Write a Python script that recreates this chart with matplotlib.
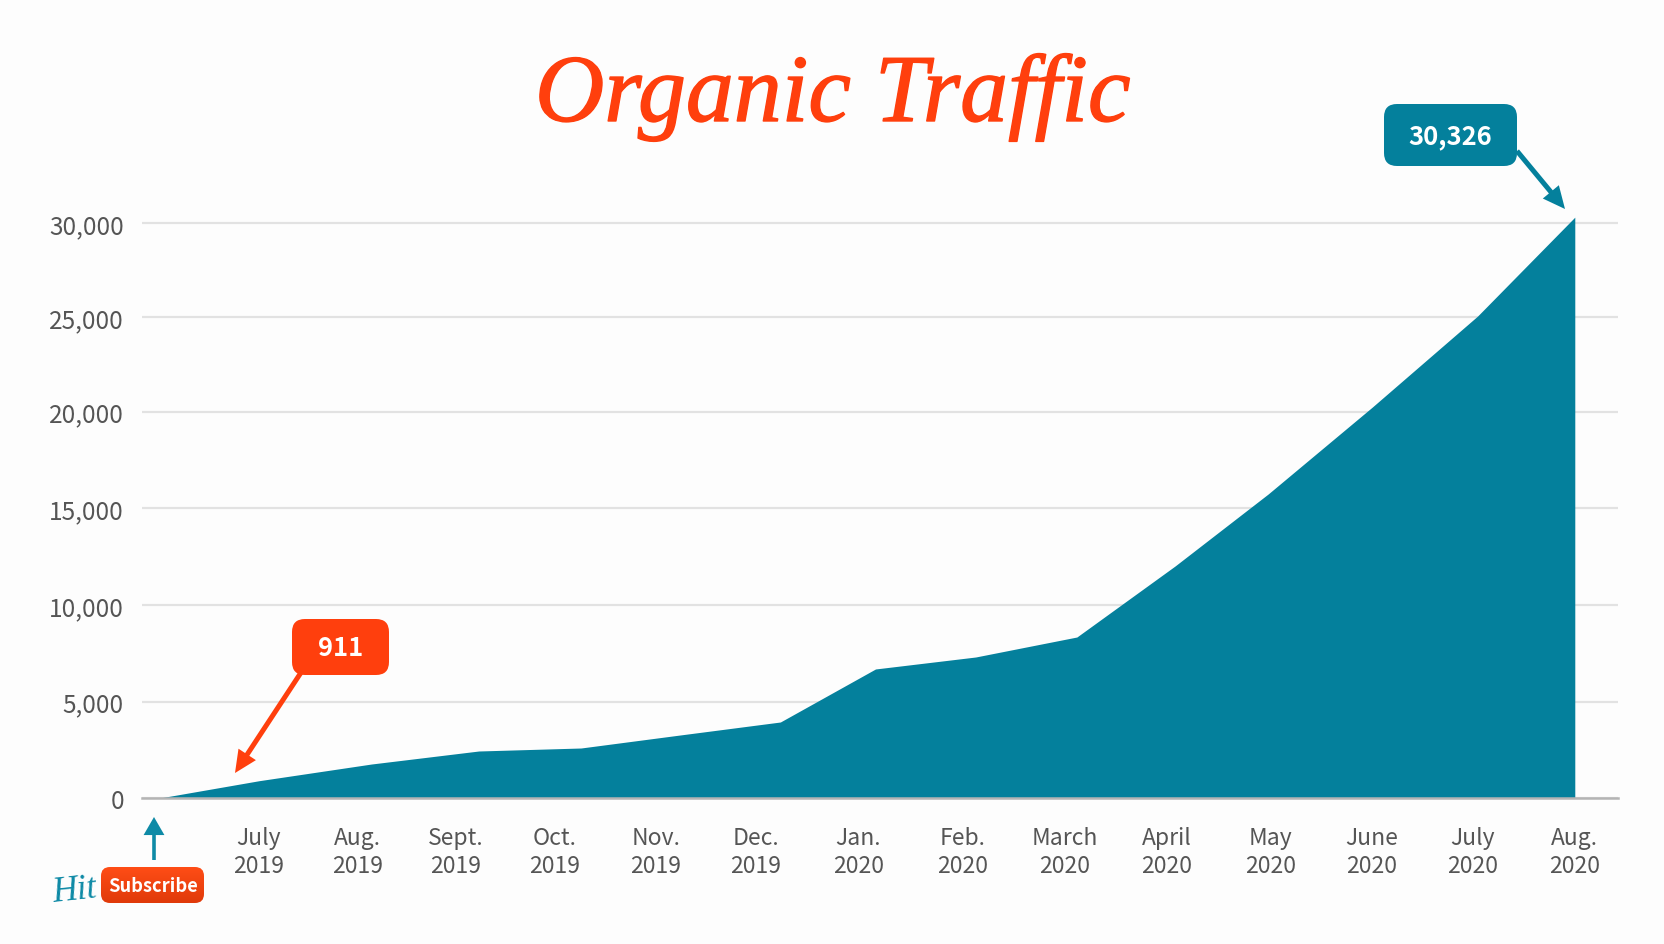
# plot.py
# Organic traffic area chart with callouts

import numpy as np
import matplotlib
matplotlib.use('Agg')
import matplotlib.pyplot as plt
import matplotlib.patheffects as pe
from matplotlib.patches import FancyBboxPatch

# Data
month_pos = [0, 1, 2.11, 3.17, 4.18, 5.16, 6.15, 7.09, 8.08, 9.08, 10.05, 10.97, 12.0, 13.04, 14]
traffic = [0, 911, 1774, 2447, 2602, 3275, 3947, 6690, 7310, 8344, 12017, 15742, 20248, 25053, 30326]

tick_pos = [0.99, 1.97, 2.94, 3.92, 4.92, 5.91, 6.92, 7.95, 8.96, 9.97, 10.99, 11.99, 12.99, 14.0]
tick_months = ['July', 'Aug.', 'Sept.', 'Oct.', 'Nov.', 'Dec.', 'Jan.', 'Feb.', 'March',
               'April', 'May', 'June', 'July', 'Aug.']
tick_years = ['2019'] * 6 + ['2020'] * 8
y_ticks = [0, 5000, 10000, 15000, 20000, 25000, 30000]

TEAL = '#04809c'
ORANGE = '#ff3f0d'
GREY_TEXT = '#555555'
UI_FONT = ['Noto Sans CJK JP', 'DejaVu Sans']
W, H = 1664, 945

plt.rcParams['font.family'] = UI_FONT

fig = plt.figure(figsize=(W / 100, H / 100), dpi=100, facecolor='#fdfdfd')

# Main axes, placed to match the reference (px: x 142-1618, y 187-799)
ax = fig.add_axes([142 / W, 1 - 799.3 / H, (1618 - 142) / W, (799.3 - 186.8) / H])
ax.set_facecolor('none')

# The picture's gridlines sit slightly closer together above 20,000
SCALE_IN = [0, 20000, 25000, 30000, 32000]
SCALE_OUT = [0, 20000, 24899, 29746, 31686]


def y_forward(v):
    return np.interp(v, SCALE_IN, SCALE_OUT)


def y_inverse(v):
    return np.interp(v, SCALE_OUT, SCALE_IN)


ax.set_yscale('function', functions=(y_forward, y_inverse))
ax.set_xlim(-0.158, 14.427)
ax.set_ylim(0, 32000)

ax.fill_between(month_pos, traffic, 0, color=TEAL, linewidth=0, zorder=2)

ax.set_yticks(y_ticks)
ax.set_yticklabels([f'{v:,}' for v in y_ticks], fontsize=17.6, color=GREY_TEXT)
ax.set_xticks(tick_pos)
ax.set_xticklabels([f'{m}\n{y}' for m, y in zip(tick_months, tick_years)],
                   fontsize=16.5, color=GREY_TEXT, linespacing=1.3)
ax.tick_params(axis='y', length=0, pad=13)
ax.tick_params(axis='x', length=0, pad=20)
ax.grid(axis='y', color='#e2e2e2', linewidth=1.6, zorder=1)

for side in ['top', 'right', 'left']:
    ax.spines[side].set_visible(False)
ax.spines['bottom'].set_color('#b4b4b4')
ax.spines['bottom'].set_linewidth(1.8)
ax.spines['bottom'].set_zorder(3)

# Overlay in pixel coordinates for title and callouts
over = fig.add_axes([0, 0, 1, 1], zorder=5)
over.set_xlim(0, W)
over.set_ylim(H, 0)
over.axis('off')

over.text(833, 122, 'Organic Traffic', family='Liberation Serif', style='italic',
          fontsize=69, color=ORANGE, ha='center', va='baseline',
          path_effects=[pe.withStroke(linewidth=1.0, foreground=ORANGE)])


def callout(x0, y0, x1, y1, text, color, start, tip):
    box = FancyBboxPatch((x0 + 13, y0 + 13), x1 - x0 - 26, y1 - y0 - 26,
                         boxstyle='round,pad=13,rounding_size=13',
                         facecolor=color, edgecolor='none', zorder=3)
    over.add_patch(box)
    over.text((x0 + x1) / 2, (y0 + y1) / 2 + 1, text, color='white', fontsize=18.4,
              fontweight='bold', ha='center', va='center', zorder=4)
    over.annotate('', xy=tip, xytext=start,
                  arrowprops=dict(facecolor=color, edgecolor='none', width=3.6,
                                  headwidth=15, headlength=16, shrink=0), zorder=2)


callout(1384, 105, 1517, 167, '30,326', TEAL, (1517, 152), (1565, 210))
callout(292, 620, 389, 676, '911', ORANGE, (302, 672), (235, 774))

# "Hit Subscribe" badge
over.annotate('', xy=(154, 818), xytext=(154, 861),
              arrowprops=dict(facecolor='#0e8aa6', edgecolor='none', width=2.6,
                              headwidth=15, headlength=13, shrink=0))
over.text(75, 902, 'Hit', family='Liberation Serif', style='italic', fontsize=25,
          color='#0e8aa6', ha='center', va='baseline', rotation=6)

button = FancyBboxPatch((110, 877), 85, 18, boxstyle='round,pad=9,rounding_size=9',
                        facecolor='none', edgecolor='none', zorder=3)
over.add_patch(button)
shade = np.linspace(0, 1, 64).reshape(-1, 1)
grad = over.imshow(shade, extent=(101, 204, 904, 868), aspect='auto', zorder=3,
                   cmap=matplotlib.colors.LinearSegmentedColormap.from_list(
                       'btn', ['#ff4d16', '#e03a0a']))
grad.set_clip_path(button)
over.set_xlim(0, W)
over.set_ylim(H, 0)
over.text(153, 886, 'Subscribe', color='white', fontsize=13.2, fontweight='bold',
          ha='center', va='center', zorder=4)

fig.savefig('out.png', dpi=100, facecolor=fig.get_facecolor())
